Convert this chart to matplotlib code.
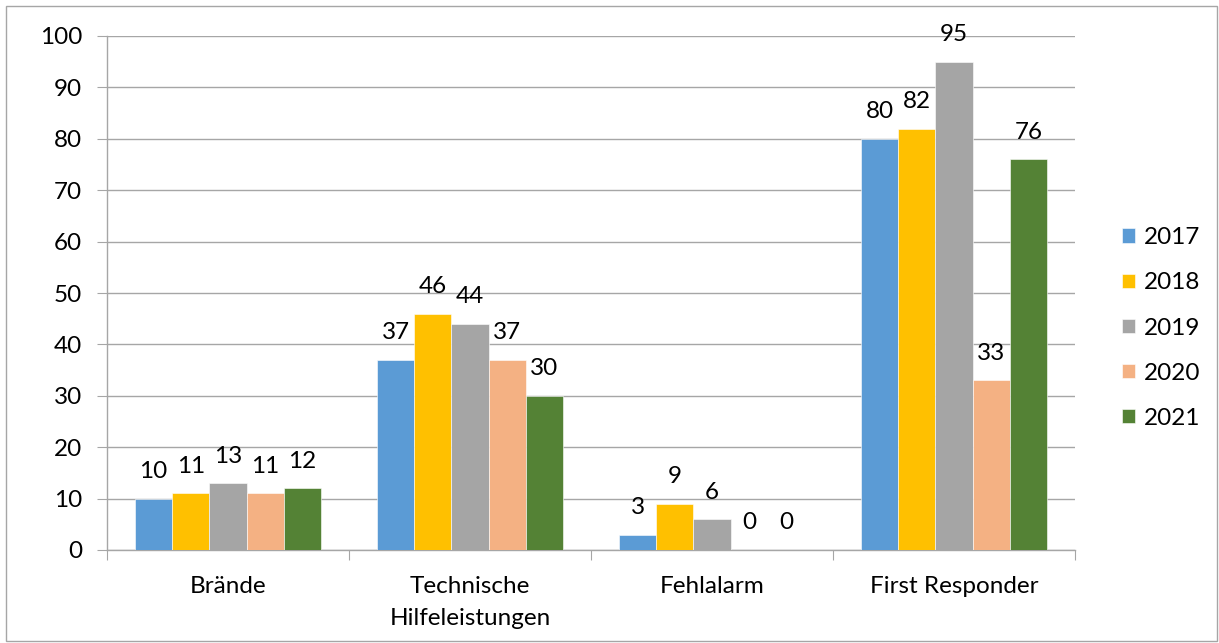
import matplotlib
matplotlib.use("Agg")
import matplotlib.pyplot as plt
from matplotlib.patches import Rectangle
import numpy as np

categories = ["Brände", "Technische\nHilfeleistungen", "Fehlalarm", "First Responder"]
years = ["2017", "2018", "2019", "2020", "2021"]
v2017 = [10, 37, 3, 80]
v2018 = [11, 46, 9, 82]
v2019 = [13, 44, 6, 95]
v2020 = [11, 37, 0, 33]
v2021 = [12, 30, 0, 76]
series = [v2017, v2018, v2019, v2020, v2021]
colors = ["#5B9BD5", "#FFC000", "#A5A5A5", "#F4B183", "#548235"]
yticks = list(range(0, 101, 10))

FS = 17.5
plt.rcParams['font.family'] = ['Lato', 'DejaVu Sans']
fig = plt.figure(figsize=(12.19, 6.43), dpi=100)
fig.patches.append(Rectangle((6/1219, 2/643), 1211/1219, 635/643, transform=fig.transFigure,
                             fill=False, edgecolor="#A6A6A6", lw=1))
ax = fig.add_axes([107/1219, 1-550/643, 968/1219, 514/643])

grid_c = "#A6A6A6"
bw = 0.1537
x = np.arange(len(categories)) + 0.5
for i, (vals, c, yr) in enumerate(zip(series, colors, years)):
    pos = x + (i - 2) * bw
    ax.bar(pos, vals, width=bw, color=c, label=yr, zorder=3, edgecolor="white", linewidth=0.4)
    for xp, v in zip(pos, vals):
        ax.annotate(str(v), (xp, v), xytext=(0, 19.5), textcoords="offset points",
                    ha="center", va="center", fontsize=FS, color="black")

ax.set_xlim(0, 4)
ax.set_ylim(0, 100)
ax.set_yticks(yticks)
ax.set_yticklabels([str(t) for t in yticks], fontsize=FS)
ax.yaxis.grid(True, color=grid_c, lw=1, zorder=0)
ax.set_xticks([0, 1, 2, 3, 4])
ax.set_xticklabels([])
ax.set_xticks(x, minor=True)
ax.set_xticklabels(categories, minor=True, fontsize=FS, linespacing=1.6)
ax.tick_params(axis="x", which="minor", length=0, pad=19)
ax.tick_params(axis="x", which="major", length=7, color=grid_c)
ax.tick_params(axis="y", length=7, color=grid_c, pad=11)
for s in ["top", "right"]:
    ax.spines[s].set_visible(False)
for s in ["left", "bottom"]:
    ax.spines[s].set_color(grid_c)
    ax.spines[s].set_linewidth(1)

handles, labels = ax.get_legend_handles_labels()
leg = fig.legend(handles, labels, loc="center left", bbox_to_anchor=(1100/1219, 1-328/643),
                 frameon=False, fontsize=FS, handlelength=0.55, handleheight=0.55,
                 handletextpad=0.35, labelspacing=0.99)

fig.savefig("out.png", dpi=100)
